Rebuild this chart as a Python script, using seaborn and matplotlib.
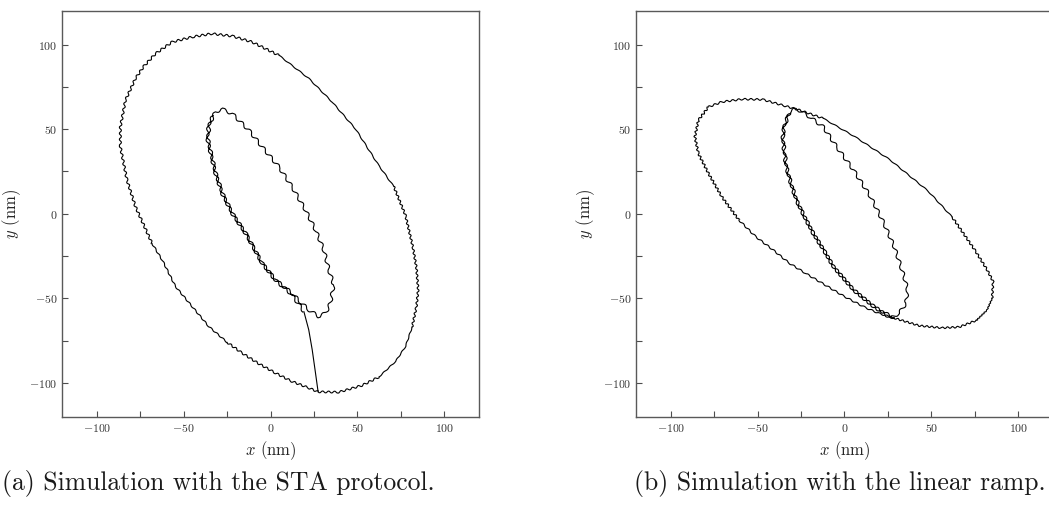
# ==============================
# Trajectories: STA protocol vs linear ramp
# ==============================

import matplotlib
matplotlib.use("Agg")
import matplotlib.pyplot as plt
import seaborn as sns
from matplotlib.ticker import MultipleLocator

# ------------------------------
# 1. Data (nm)
# ------------------------------

# (a) STA protocol: inner loops, link to the outer orbit, outer orbit
sta_inner_x = [-33.0, -35.5, -36.5, -34.5, -31.7, -27.9, -22.1, -14.4, -9.5, -4.8,
               2.9, 12.4, 17.0, 22.0, 27.8, 31.7, 34.5, 35.5, 36.4, 33.6,
               30.7, 25.9, 20.1, 12.4, 4.8, -4.8, -12.5, -22.1, -27.9, -31.7,
               -35.0, -36.0, -34.0, -31.3, -27.4, -21.6, -14.0, -5.0, 3.0, 12.0, 19.2]
sta_inner_y = [58.0, 53.0, 45.0, 35.6, 23.8, 12.0, 0.2, -11.6, -20.5, -29.3,
               -39.1, -47.0, -52.0, -56.8, -60.8, -58.8, -52.9, -47.0, -42.0, -33.2,
               -21.4, -9.6, 2.2, 15.9, 27.7, 39.5, 49.4, 59.2, 61.8, 60.2,
               53.0, 44.5, 35.0, 23.3, 11.5, -0.3, -12.0, -29.0, -39.5, -47.5, -57.8]

sta_link_x = [19.2, 22.0, 24.0, 25.9, 27.4]
sta_link_y = [-57.8, -68.6, -80.4, -94.2, -105.3]

sta_outer_x = [27.4, 39.3, 52.7, 62.4, 72.0, 77.7, 81.5, 84.0, 85.0, 84.0,
               82.0, 77.7, 71.0, 62.0, 49.0, 35.5, 22.0, 5.0, -10.6, -22.1,
               -33.8, -45.0, -56.6, -66.2, -73.0, -77.7, -83.5, -86.4, -86.4, -82.6,
               -77.7, -68.2, -62.0, -54.7, -45.0, -35.5, -25.0, -16.3, -7.0, 2.9,
               12.0, 22.0, 27.4]
sta_outer_y = [-105.3, -105.5, -101.5, -96.5, -87.3, -78.5, -67.0, -55.0, -45.0, -32.0,
               -20.0, -1.0, 16.0, 29.0, 50.0, 66.0, 80.0, 93.5, 101.5, 105.0,
               106.4, 104.5, 101.5, 94.6, 87.0, 80.0, 67.0, 51.3, 39.5, 19.9,
               4.1, -17.5, -28.0, -43.0, -55.0, -66.7, -76.0, -82.4, -88.5, -94.2,
               -99.0, -103.0, -105.3]

# (b) linear ramp: inner loops, then the outer orbit
ramp_inner_x = [-31.7, -34.5, -35.6, -34.8, -33.6, -31.0, -27.8, -23.0, -18.1, -12.0,
                -6.4, 5.2, 16.9, 26.6, 31.5, 35.4, 36.3, 34.5, 32.5, 28.6,
                22.7, 15.0, 5.2, -4.5, -12.2, -20.0, -27.8, -31.5, -34.8, -35.4,
                -34.4, -33.2, -30.6, -27.4, -22.6, -17.7, -11.6, -6.0, 5.6, 17.3, 28.6]
ramp_inner_y = [59.2, 52.0, 45.4, 36.0, 27.7, 18.0, 8.1, -2.0, -11.6, -21.5,
                -31.3, -45.0, -54.9, -61.7, -58.8, -52.9, -45.0, -38.0, -31.3, -19.5,
                -5.7, 10.0, 25.8, 39.5, 51.3, 57.2, 62.2, 60.0, 52.5, 45.0,
                36.5, 27.0, 17.5, 7.5, -2.5, -12.0, -22.0, -31.8, -45.5, -55.3, -61.7]

ramp_outer_x = [28.6, 43.0, 56.0, 66.0, 76.0, 82.0, 85.0, 85.5, 82.0, 75.0,
                62.0, 48.0, 26.0, 6.0, -12.2, -25.8, -35.6, -47.2, -58.9, -70.6,
                -78.3, -84.1, -86.1, -84.1, -78.3, -70.6, -60.8, -51.1, -41.0, -31.7,
                -22.0, -13.0, 0.0, 12.0, 20.0, 28.6]
ramp_outer_y = [-61.7, -66.2, -67.5, -67.0, -63.0, -57.0, -50.0, -40.0, -33.0, -21.5,
                -2.0, 13.5, 32.0, 45.5, 56.3, 61.2, 64.1, 67.5, 67.7, 66.1,
                63.1, 55.3, 45.4, 35.6, 23.8, 10.0, -3.7, -13.6, -21.5, -29.3,
                -35.5, -41.0, -49.0, -55.5, -59.0, -61.7]

captions = ["(a) Simulation with the STA protocol.",
            "(b) Simulation with the linear ramp."]

ticks_major = [-100, -50, 0, 50, 100]

# wiggle look along the outer orbits: (first point, last point, amplitude px, period px)
sta_outer_wiggle = [(0, 3, 1.0, 6), (3, 6, 0.4, 9), (6, 12, 1.0, 5),
                    (12, 17, 0.4, 12), (17, 31, 1.1, 6), (31, 36, 0.6, 8),
                    (36, 42, 1.0, 6)]
ramp_outer_wiggle = [(0, 4, 0.9, 5), (4, 6, 0.6, 3), (6, 10, 1.0, 5),
                     (10, 14, 0.4, 12), (14, 20, 0.9, 6), (20, 26, 1.1, 4.5),
                     (26, 35, 0.7, 8)]

# ------------------------------
# 2. Style
# ------------------------------

sns.set_theme(style="ticks")
plt.rcParams["font.family"] = ["cmr10"]
plt.rcParams["mathtext.fontset"] = "cm"
plt.rcParams["axes.formatter.use_mathtext"] = True
plt.rcParams["axes.unicode_minus"] = True

# ------------------------------
# 3. Figure
# ------------------------------

fig = plt.figure(figsize=(10.49, 5.08), dpi=100)
ax_a = fig.add_axes([62.0 / 1049, 91.3 / 508, 417.0 / 1049, 406.0 / 508])
ax_b = fig.add_axes([636.0 / 1049, 91.3 / 508, 417.0 / 1049, 406.0 / 508])


def draw_path(ax, xs, ys, wiggle=None):
    sns.lineplot(x=xs, y=ys, sort=False, estimator=None, color="black",
                 lw=0.8, ax=ax)
    if wiggle is not None:
        ax.lines[-1].set_sketch_params(*wiggle)


def draw_orbit(ax, xs, ys, pieces):
    for i0, i1, amp, period in pieces:
        draw_path(ax, xs[i0:i1 + 1], ys[i0:i1 + 1], wiggle=(amp, period, 1))


draw_path(ax_a, sta_inner_x, sta_inner_y, wiggle=(1.6, 11, 1))
draw_path(ax_a, sta_link_x, sta_link_y)
draw_orbit(ax_a, sta_outer_x, sta_outer_y, sta_outer_wiggle)

draw_path(ax_b, ramp_inner_x, ramp_inner_y, wiggle=(1.6, 11, 1))
draw_orbit(ax_b, ramp_outer_x, ramp_outer_y, ramp_outer_wiggle)

for ax in (ax_a, ax_b):
    ax.set_xlim(-120, 120)
    ax.set_ylim(-120, 120)
    ax.set_xticks(ticks_major)
    ax.set_yticks(ticks_major)
    ax.xaxis.set_minor_locator(MultipleLocator(25))
    ax.yaxis.set_minor_locator(MultipleLocator(25))
    ax.tick_params(which="both", direction="in", length=4, width=0.8,
                   color="0.3", labelsize=8.5, labelcolor="0.2",
                   top=False, right=False)
    for sp in ax.spines.values():
        sp.set_color("0.35")
        sp.set_linewidth(1.0)
    ax.set_xlabel(r"$x$ (nm)", fontsize=12, color="0.15")
    ax.set_ylabel(r"$y$ (nm)", fontsize=12, color="0.15")

fig.text(2 / 1049, 18 / 508, captions[0], ha="left", va="baseline",
         fontsize=18.5, color="0.1")
fig.text(1046 / 1049, 18 / 508, captions[1], ha="right", va="baseline",
         fontsize=18.5, color="0.1")

fig.savefig("out.png", dpi=100)
